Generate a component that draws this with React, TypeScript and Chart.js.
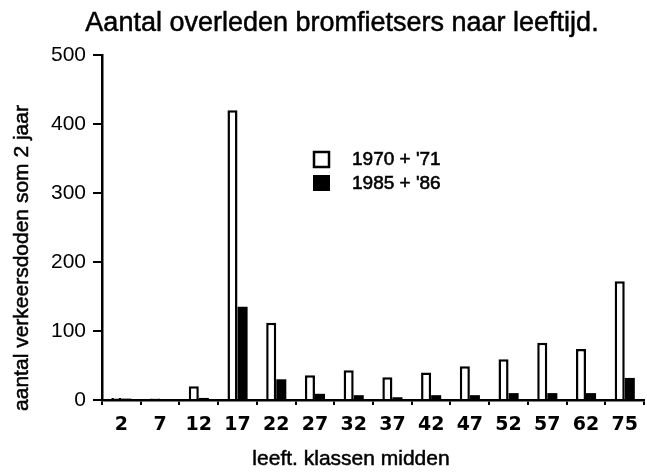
import React, { useEffect, useRef } from "react";
import { Chart, registerables } from "chart.js";

Chart.register(...registerables);

const categories = ["2", "7", "12", "17", "22", "27", "32", "37", "42", "47", "52", "57", "62", "75"];
const series1970 = [3, 2, 20, 420, 112, 36, 43, 33, 40, 49, 59, 83, 74, 172];
const series1985 = [2, 1, 3, 135, 30, 9, 7, 4, 7, 7, 10, 10, 10, 32];
const seriesLabels = ["1970 + '71", "1985 + '86"];
const yMin = 0;
const yMax = 500;
const yStep = 100;
const titleText = "Aantal overleden bromfietsers naar leeftijd.";
const xTitleText = "leeft. klassen midden";
const yTitleText = "aantal verkeersdoden som 2 jaar";

function boldText(ctx: CanvasRenderingContext2D, text: string, x: number, y: number) {
  ctx.fillText(text, x, y);
  ctx.strokeText(text, x, y);
}

const decorPlugin = {
  id: "decor",
  afterDraw(chart: any) {
    const ctx = chart.ctx as CanvasRenderingContext2D;
    ctx.save();
    ctx.fillStyle = "#000";
    ctx.strokeStyle = "#000";
    ctx.lineWidth = 0.5;
    // Title
    ctx.font = '27px "Liberation Sans", Arial, sans-serif';
    ctx.textAlign = "center";
    ctx.textBaseline = "alphabetic";
    boldText(ctx, titleText, 342, 31);
    // X axis title
    ctx.font = '21px "Liberation Sans", Arial, sans-serif';
    boldText(ctx, xTitleText, 351, 465);
    // Y axis title
    ctx.save();
    ctx.translate(28, 258);
    ctx.rotate(-Math.PI / 2);
    ctx.font = '21px "Liberation Sans", Arial, sans-serif';
    ctx.textAlign = "center";
    boldText(ctx, yTitleText, 0, 0);
    ctx.restore();
    // Legend
    ctx.lineWidth = 2.5;
    ctx.fillStyle = "#fff";
    ctx.fillRect(314, 152, 15, 15);
    ctx.strokeRect(314, 152, 15, 15);
    ctx.fillStyle = "#000";
    ctx.fillRect(313, 175, 17, 16);
    ctx.lineWidth = 0.6;
    ctx.font = '19px "Liberation Sans", Arial, sans-serif';
    ctx.textAlign = "left";
    ctx.textBaseline = "middle";
    boldText(ctx, seriesLabels[0], 352, 160);
    boldText(ctx, seriesLabels[1], 352, 184);
    ctx.restore();
  },
};

export default function App() {
  const ref = useRef<HTMLCanvasElement | null>(null);
  useEffect(() => {
    if (!ref.current) return;
    const chart = new Chart(ref.current, {
      type: "bar",
      data: {
        labels: categories,
        datasets: [
          {
            label: seriesLabels[0],
            data: series1970,
            backgroundColor: "#ffffff",
            borderColor: "#000000",
            borderWidth: 2.5,
            categoryPercentage: 0.52,
            barPercentage: 1,
          },
          {
            label: seriesLabels[1],
            data: series1985,
            backgroundColor: "#000000",
            borderColor: "#000000",
            borderWidth: 0,
            categoryPercentage: 0.52,
            barPercentage: 1,
          },
        ],
      },
      options: {
        animation: false,
        responsive: true,
        maintainAspectRatio: false,
        layout: { padding: { left: 0, right: 1, top: 55, bottom: 0 } },
        plugins: {
          legend: { display: false },
          title: { display: false },
          tooltip: { enabled: false },
        },
        scales: {
          x: {
            offset: true,
            grid: {
              offset: true,
              drawOnChartArea: false,
              drawTicks: true,
              tickLength: 5,
              color: "#000",
              lineWidth: 2,
            },
            border: { display: true, color: "#000", width: 2.5 },
            ticks: {
              color: "#000",
              padding: 9,
              maxRotation: 0,
              autoSkip: false,
              font: { family: '"DejaVu Sans"', size: 19, weight: "bold" },
            },
            afterFit(scale: any) {
              scale.height = 72;
            },
          },
          y: {
            min: yMin,
            max: yMax,
            grid: {
              drawOnChartArea: false,
              drawTicks: true,
              tickLength: 9,
              color: "#000",
              lineWidth: 2,
            },
            border: { display: true, color: "#000", width: 2.5 },
            ticks: {
              stepSize: yStep,
              color: "#000",
              padding: 7,
              font: { family: '"Liberation Sans"', size: 21 },
            },
            afterFit(scale: any) {
              scale.width = 102;
            },
          },
        },
      },
      plugins: [decorPlugin],
    });
    return () => chart.destroy();
  }, []);
  return (
    <div style={{ position: "fixed", left: 0, top: 0, width: 647, height: 472, background: "#fff" }}>
      <canvas ref={ref} />
    </div>
  );
}
